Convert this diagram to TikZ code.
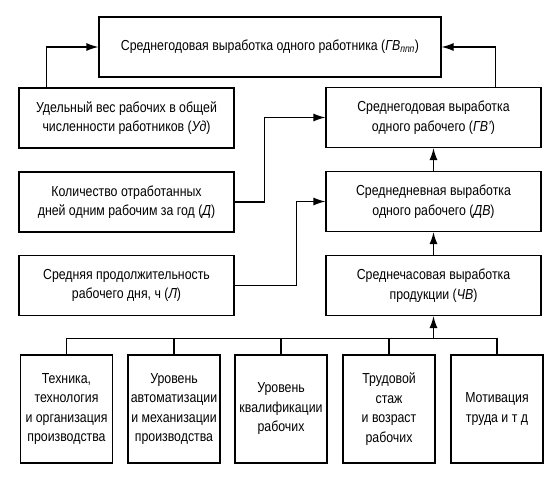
\documentclass[tikz,border=0pt]{standalone}
\usepackage{fontspec}
\setmainfont{Liberation Sans}[FakeStretch=0.85]
\usetikzlibrary{arrows.meta}

\tikzset{
  box/.style={draw, line width=1.2pt, inner sep=0pt, align=center,
    font=\fontsize{14.5}{19.5}\selectfont},
  wide/.style={box, minimum width=215pt, minimum height=60pt},
  factor/.style={box, minimum width=92pt, minimum height=108pt},
  arr/.style={line width=1.2pt, -{Latex[length=12pt,width=8pt]}},
  bus/.style={line width=1.2pt}
}

\begin{document}
\begin{tikzpicture}[x=1pt,y=-1pt]
\useasboundingbox (0,0) rectangle (557,477);

\node [box, minimum width=342pt, minimum height=60pt] (gvppp) at (270,47)
  {Среднегодовая выработка одного работника (\textit{ГВ}\textsubscript{\textit{ппп}})};

\node [wide] (ud) at (126.5,118) {Удельный вес рабочих в общей\\численности работников (\textit{Уд})};
\node [wide] (gv) at (433.5,117.5) {Среднегодовая выработка\\одного рабочего (\textit{ГВ'})};

\node [wide] (d) at (126.5,202) {Количество отработанных\\дней одним рабочим за год (\textit{Д})};
\node [wide] (dv) at (433.5,201.5) {Среднедневная выработка\\одного рабочего (\textit{ДВ})};

\node [wide] (l) at (126.5,285.5) {Средняя продолжительность\\рабочего дня, ч (\textit{Л})};
\node [wide] (cv) at (433.5,285.5) {Среднечасовая выработка\\продукции (\textit{ЧВ})};

\node [factor] (f1) at (66.5,409) {Техника,\\технология\\и организация\\производства};
\node [factor] (f2) at (174,409) {Уровень\\автоматизации\\и механизации\\производства};
\node [factor] (f3) at (281,409) {Уровень\\квалификации\\рабочих};
\node [factor] (f4) at (389,409) {Трудовой\\стаж\\и возраст\\рабочих};
\node [factor] (f5) at (497,409) {Мотивация\\труда и т д};

\draw [arr] ([xshift=28pt]ud.north west) |- (gvppp.west);
\draw [arr] ([xshift=-46pt]gv.north east) |- (gvppp.east);
\draw [arr] (d.east) -- ++(30,0) |- (gv.west);
\draw [arr] (l.east) -- ++(62,0) |- (dv.west);
\draw [arr] (dv) -- (gv);
\draw [arr] (cv) -- (dv);

\draw [bus] (f1.north) -- ++(0,-16) -| (f5.north);
\foreach \n in {f2,f3,f4}
{
  \draw [bus] (\n.north) -- ++(0,-16);
}
\coordinate (join) at (433.5,339);
\draw [arr] (join) -- (cv.south);
\end{tikzpicture}
\end{document}
